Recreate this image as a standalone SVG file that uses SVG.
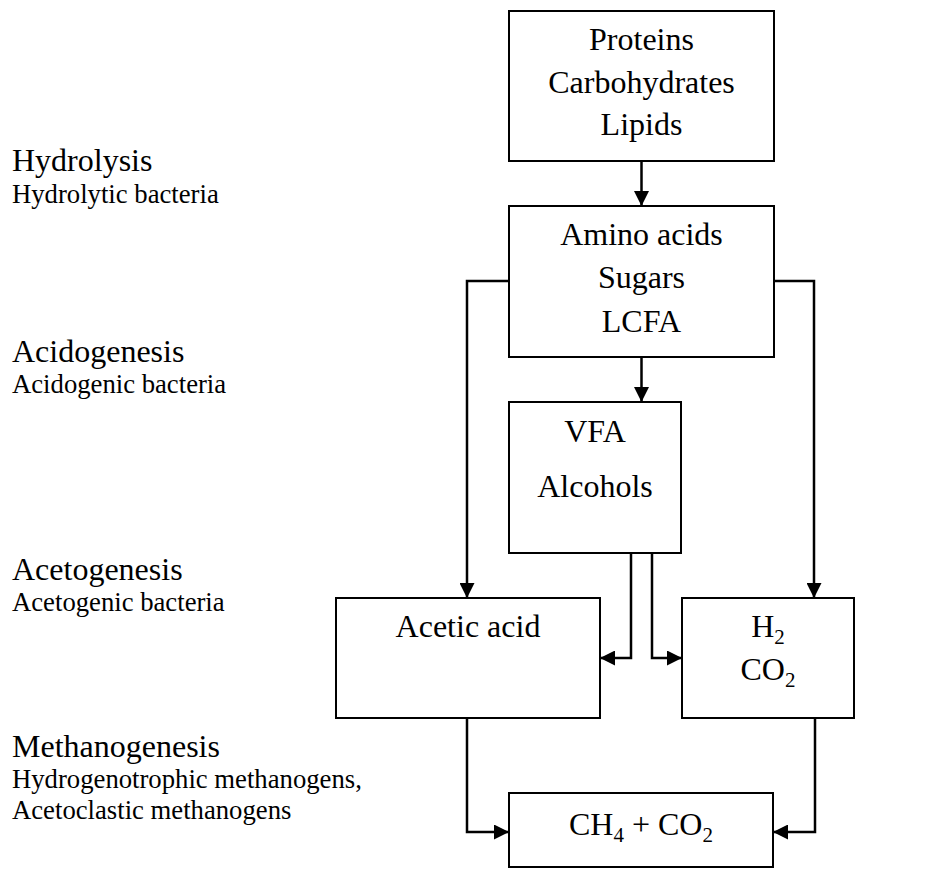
<svg xmlns="http://www.w3.org/2000/svg" width="934" height="869" viewBox="0 0 934 869">
<style>
  .box { fill: #fff; stroke: #000; stroke-width: 2; }
  .t { font-family: "Liberation Serif", "Times New Roman", serif; font-size: 32px; fill: #000; text-anchor: middle; }
  .h { font-family: "Liberation Serif", "Times New Roman", serif; font-size: 32px; fill: #000; }
  .s { font-family: "Liberation Serif", "Times New Roman", serif; font-size: 26.7px; fill: #000; }
  .c { fill: none; stroke: #000; stroke-width: 2.5; marker-end: url(#arr); }
</style>
<defs>
  <marker id="arr" markerUnits="userSpaceOnUse" markerWidth="15" markerHeight="15" refX="15" refY="7.5" orient="auto">
    <path d="M0,0 L15,7.5 L0,15 z" fill="#000"/>
  </marker>
</defs>
<rect width="934" height="869" fill="#fff"/>

<g id="stages">
  <text class="h" x="12" y="171">Hydrolysis</text>
  <text class="s" x="12" y="203">Hydrolytic bacteria</text>
  <text class="h" x="12" y="362">Acidogenesis</text>
  <text class="s" x="12" y="393">Acidogenic bacteria</text>
  <text class="h" x="12" y="580">Acetogenesis</text>
  <text class="s" x="12" y="611">Acetogenic bacteria</text>
  <text class="h" x="12" y="757">Methanogenesis</text>
  <text class="s" x="12" y="788">Hydrogenotrophic methanogens,</text>
  <text class="s" x="12" y="819">Acetoclastic methanogens</text>
</g>

<g id="connectors">
  <path class="c" d="M641.5,161 V206"/>
  <path class="c" d="M509,281 H467 V598"/>
  <path class="c" d="M774,281 H814 V598"/>
  <path class="c" d="M641.5,357 V402"/>
  <path class="c" d="M631,553 V658 H600"/>
  <path class="c" d="M652,553 V658 H682"/>
  <path class="c" d="M467,718 V832 H509"/>
  <path class="c" d="M815,718 V832 H773"/>
</g>

<g id="polymers">
  <rect class="box" x="509" y="11" width="265" height="150"/>
  <text class="t" x="641.5" y="50">Proteins</text>
  <text class="t" x="641.5" y="93">Carbohydrates</text>
  <text class="t" x="641.5" y="135">Lipids</text>
</g>

<g id="monomers">
  <rect class="box" x="509" y="206" width="265" height="151"/>
  <text class="t" x="641.5" y="245">Amino acids</text>
  <text class="t" x="641.5" y="288">Sugars</text>
  <text class="t" x="641.5" y="332">LCFA</text>
</g>

<g id="vfa">
  <rect class="box" x="509" y="402" width="172" height="151"/>
  <text class="t" x="595" y="442">VFA</text>
  <text class="t" x="595" y="497">Alcohols</text>
</g>

<g id="acetic">
  <rect class="box" x="336" y="598" width="264" height="120"/>
  <text class="t" x="468" y="637">Acetic acid</text>
</g>

<g id="h2co2">
  <rect class="box" x="682" y="598" width="172" height="120"/>
  <text class="t" x="768" y="637">H<tspan font-size="21" dy="7">2</tspan></text>
  <text class="t" x="768" y="680">CO<tspan font-size="21" dy="7">2</tspan></text>
</g>

<g id="methane">
  <rect class="box" x="509" y="793" width="264" height="74"/>
  <text class="t" x="641" y="835">CH<tspan font-size="21" dy="7">4</tspan><tspan dy="-7"> + CO</tspan><tspan font-size="21" dy="7">2</tspan></text>
</g>
</svg>
